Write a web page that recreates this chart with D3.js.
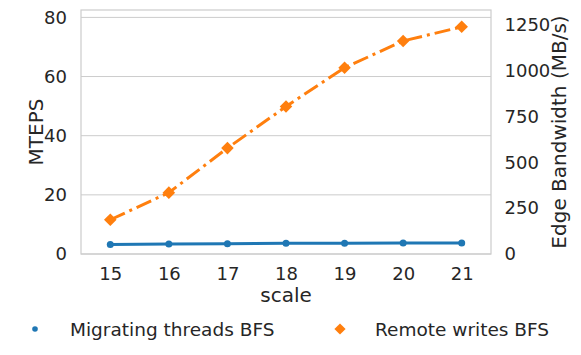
<!DOCTYPE html>
<html>
<head>
<meta charset="utf-8">
<script src="https://cdn.jsdelivr.net/npm/d3@7"></script>
<style>
  body { margin: 0; background: #fff; }
  svg text { font-family: "DejaVu Sans", sans-serif; fill: #262626; }
</style>
</head>
<body>
<div id="chart"></div>
<script>
// data
const scales = [15, 16, 17, 18, 19, 20, 21];
const mteps = [3.2, 3.4, 3.5, 3.6, 3.6, 3.7, 3.7];
const bandwidth = [187, 335, 578, 805, 1017, 1163, 1240];
const leftTicks = [0, 20, 40, 60, 80];
const rightTicks = [0, 250, 500, 750, 1000, 1250];
const seriesNames = ["Migrating threads BFS", "Remote writes BFS"];

const width = 581, height = 355;
const margin = {top: 10, right: 90, bottom: 101, left: 81};
const innerW = width - margin.left - margin.right;
const innerH = height - margin.top - margin.bottom;

const blue = "#1f77b4", orange = "#ff7f0e", spineColor = "#cccccc";
const tickSize = "18px", labelSize = "20px", legendSize = "18.5px";

const svg = d3.select("#chart").append("svg")
    .attr("width", width)
    .attr("height", height);

const g = svg.append("g")
    .attr("transform", `translate(${margin.left},${margin.top})`);

const xScale = d3.scaleLinear().domain([14.5, 21.5]).range([0, innerW]);
const yLeft = d3.scaleLinear().domain([0, 82.5]).range([innerH, 0]);
const yRight = d3.scaleLinear().domain([0, 1332]).range([innerH, 0]);

// horizontal grid from the left axis
g.selectAll(".grid")
    .data(leftTicks)
    .join("line")
    .attr("class", "grid")
    .attr("x1", 0).attr("x2", innerW)
    .attr("y1", d => yLeft(d)).attr("y2", d => yLeft(d))
    .attr("stroke", spineColor)
    .attr("stroke-width", 1);

// frame
g.append("rect")
    .attr("width", innerW).attr("height", innerH)
    .attr("fill", "none")
    .attr("stroke", spineColor)
    .attr("stroke-width", 1.2);

const styleAxis = (sel) => {
    sel.select(".domain").remove();
    sel.selectAll(".tick line").remove();
    sel.selectAll("text").style("font-size", tickSize).attr("fill", "#262626");
};

g.append("g")
    .attr("transform", `translate(0,${innerH})`)
    .call(d3.axisBottom(xScale).tickValues(scales).tickFormat(d3.format("d")).tickPadding(7))
    .call(styleAxis);

g.append("g")
    .call(d3.axisLeft(yLeft).tickValues(leftTicks).tickFormat(d3.format("d")).tickPadding(8))
    .call(styleAxis);

g.append("g")
    .attr("transform", `translate(${innerW},0)`)
    .call(d3.axisRight(yRight).tickValues(rightTicks).tickFormat(d3.format("d")).tickPadding(7.5))
    .call(styleAxis);

// axis labels
g.append("text")
    .attr("x", innerW / 2)
    .attr("y", innerH + 48)
    .attr("text-anchor", "middle")
    .style("font-size", labelSize)
    .text("scale");

g.append("text")
    .attr("transform", `translate(${43 - margin.left},${innerH / 2}) rotate(-90)`)
    .attr("text-anchor", "middle")
    .style("font-size", labelSize)
    .text("MTEPS");

g.append("text")
    .attr("transform", `translate(${566 - margin.left},${innerH / 2}) rotate(-90)`)
    .attr("text-anchor", "middle")
    .style("font-size", labelSize)
    .text("Edge Bandwidth (MB/s)");

// migrating threads line
const lineLeft = d3.line().x((d, i) => xScale(scales[i])).y(d => yLeft(d));
g.append("path")
    .datum(mteps)
    .attr("d", lineLeft)
    .attr("fill", "none")
    .attr("stroke", blue)
    .attr("stroke-width", 3);

g.selectAll(".dot")
    .data(mteps)
    .join("circle")
    .attr("class", "dot")
    .attr("cx", (d, i) => xScale(scales[i]))
    .attr("cy", d => yLeft(d))
    .attr("r", 3.5)
    .attr("fill", blue);

// remote writes line
const lineRight = d3.line().x((d, i) => xScale(scales[i])).y(d => yRight(d));
g.append("path")
    .datum(bandwidth)
    .attr("d", lineRight)
    .attr("fill", "none")
    .attr("stroke", orange)
    .attr("stroke-width", 3)
    .attr("stroke-dasharray", "16,5,3,5");

const diamond = d3.symbol().type(d3.symbolDiamond2).size(100);
g.selectAll(".diamond")
    .data(bandwidth)
    .join("path")
    .attr("class", "diamond")
    .attr("d", diamond)
    .attr("transform", (d, i) => `translate(${xScale(scales[i])},${yRight(d)})`)
    .attr("fill", orange);

// legend
const legend = svg.append("g").attr("transform", "translate(0,329)");
legend.append("circle")
    .attr("cx", 35).attr("cy", 0).attr("r", 2.8)
    .attr("fill", blue);
legend.append("text")
    .attr("x", 70).attr("y", 6.5)
    .style("font-size", legendSize)
    .text(seriesNames[0]);
legend.append("path")
    .attr("d", d3.symbol().type(d3.symbolDiamond2).size(80))
    .attr("transform", "translate(340,0)")
    .attr("fill", orange);
legend.append("text")
    .attr("x", 375).attr("y", 6.5)
    .style("font-size", legendSize)
    .text(seriesNames[1]);
</script>
</body>
</html>
